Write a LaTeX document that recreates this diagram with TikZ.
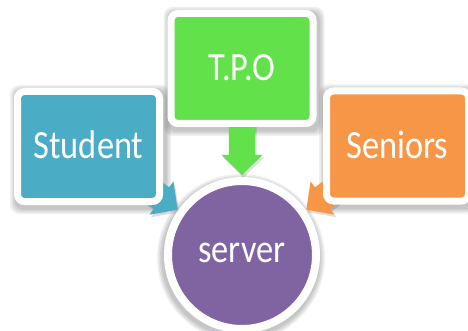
\documentclass[tikz,border=0pt]{standalone}
\usepackage{fontspec}
\setmainfont{Carlito}
\usetikzlibrary{calc,backgrounds}
\definecolor{cstudent}{HTML}{4BACC6}
\definecolor{ctpo}{HTML}{62E14A}
\definecolor{cseniors}{HTML}{F79646}
\definecolor{cserver}{HTML}{8064A2}
\tikzset{
  box/.style={draw=white, line width=7pt, rounded corners=7pt,
    minimum width=142pt, minimum height=110pt, inner sep=0pt,
    text=white, font=\fontsize{40}{48}\selectfont},
  srvstyle/.style={circle, draw=white, line width=8pt, fill=cserver,
    minimum size=148pt, inner sep=0pt, text=white,
    font=\fontsize{40}{48}\selectfont},
  blockarrow/.pic={
    \fill (0,0) -- (-20,20.5) -- (-20,13.2) -- (-60,13.2) -- (-60,-13.2)
      -- (-20,-13.2) -- (-20,-20.5) -- cycle;
  },
  arrowshadow/.style={fill=black, opacity=0.13},
  shadowlayer/.style={fill=black, opacity=0.06}
}
\newcommand{\nrw}[1]{\scalebox{0.86}[1]{#1}}
\newcommand{\boxshadow}[1]{%
  \foreach \e in {6,4.5,3,1.5}{
    \fill[shadowlayer, rounded corners=9pt]
      ($(#1.north west)+(-\e+2,-\e+3)$) rectangle ($(#1.south east)+(\e+2,\e+3)$);
  }}
\begin{document}
\begin{tikzpicture}[x=1pt,y=-1pt]
\useasboundingbox (0,0) rectangle (468,331);
% arrow tips
\coordinate (tipS) at (177.7,209.7);
\coordinate (tipT) at (242,175);
\coordinate (tipR) at (306.3,209.7);
% arrow shadows
\pic[arrowshadow, rotate=-35.7] at ([shift={(1.5,2.5)}]tipS) {blockarrow};
\pic[arrowshadow, rotate=-90] at ([shift={(1.5,2.5)}]tipT) {blockarrow};
\pic[arrowshadow, rotate=-144.3] at ([shift={(1.5,2.5)}]tipR) {blockarrow};
% arrows
\pic[fill=cstudent, rotate=-35.7] at (tipS) {blockarrow};
\pic[fill=ctpo, rotate=-90] at (tipT) {blockarrow};
\pic[fill=cseniors, rotate=-144.3] at (tipR) {blockarrow};
% boxes
\node[box, fill=cstudent] (student) at (88.5,146.5) {\raisebox{3pt}{\nrw{Student}}};
\node[box, fill=ctpo] (tpo) at (242,68.5) {\raisebox{2pt}{\nrw{T.P.O}}};
\node[box, fill=cseniors] (seniors) at (397.5,146) {\raisebox{3pt}{\nrw{Seniors}}};
% server
\node[srvstyle] (server) at (242,255) {\raisebox{4pt}{\nrw{server}}};
\begin{pgfonlayer}{background}
  \fill[white] (0,0) rectangle (468,331);
  \boxshadow{student}
  \boxshadow{tpo}
  \boxshadow{seniors}
  \foreach \e in {6,4.5,3,1.5}{
    \fill[shadowlayer] ([shift={(-1,3)}]server.center) circle[radius=74pt+4pt+\e pt];
  }
\end{pgfonlayer}
\end{tikzpicture}
\end{document}
